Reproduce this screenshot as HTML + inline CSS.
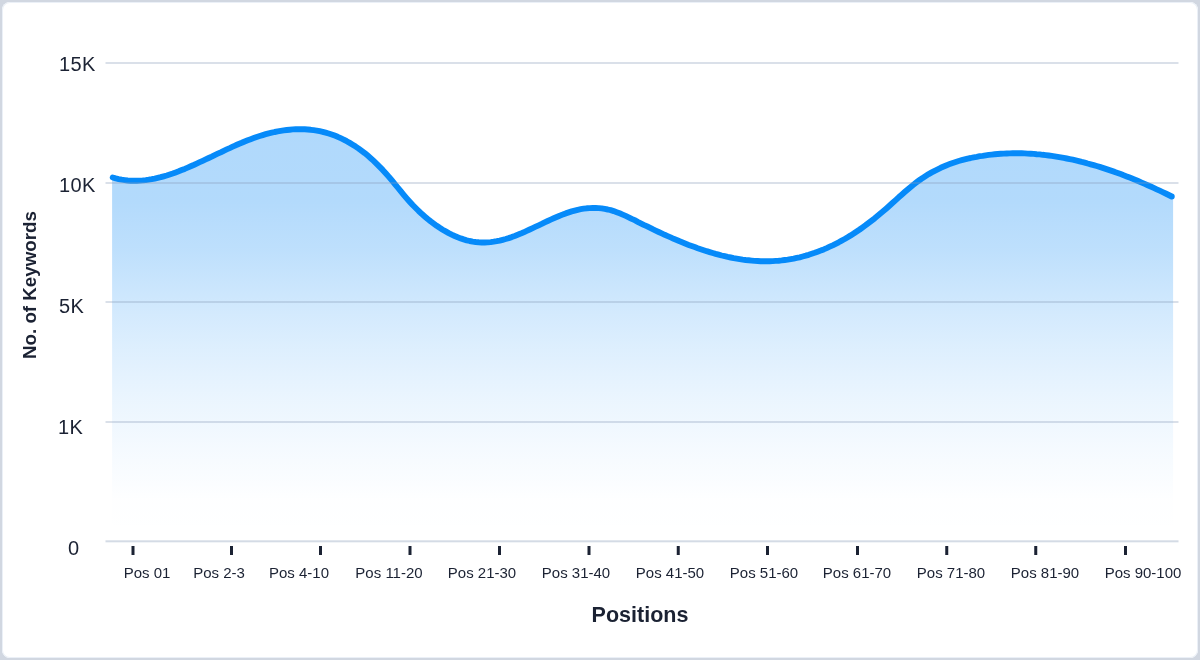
<!DOCTYPE html>
<html><head><meta charset="utf-8">
<style>
html,body{margin:0;padding:0;}
body{width:1200px;height:660px;background:#d1d7e1;position:relative;overflow:hidden;font-family:"Liberation Sans",sans-serif;color:#1b2233;}
.card{position:absolute;left:2px;top:2px;width:1196px;height:656px;background:#fff;border-radius:8px;box-shadow:inset 0 0 0 1px #ebf0f7;}
svg{position:absolute;left:0;top:0;}
.yl,.xl,.ytitle,.xtitle{will-change:transform;}
.yl{position:absolute;font-size:20px;line-height:20px;white-space:nowrap;letter-spacing:0.4px;}
.xl{position:absolute;font-size:15px;line-height:15px;white-space:nowrap;transform:translateX(-50%);}
.ytitle{position:absolute;font-size:18.75px;font-weight:bold;white-space:nowrap;transform-origin:0 0;transform:rotate(-90deg);}
.xtitle{position:absolute;font-size:21.5px;font-weight:bold;white-space:nowrap;transform:translateX(-50%);}
</style></head><body>
<div class="card"></div>
<svg width="1200" height="660" viewBox="0 0 1200 660">
<defs>
<linearGradient id="g" x1="0" y1="126" x2="0" y2="541" gradientUnits="userSpaceOnUse">
<stop offset="0" stop-color="#0084f5" stop-opacity="0.31"/>
<stop offset="0.178" stop-color="#0084f5" stop-opacity="0.3"/>
<stop offset="0.3" stop-color="#0084f5" stop-opacity="0.255"/>
<stop offset="0.455" stop-color="#0084f5" stop-opacity="0.17"/>
<stop offset="0.54" stop-color="#0084f5" stop-opacity="0.13"/>
<stop offset="0.66" stop-color="#0084f5" stop-opacity="0.08"/>
<stop offset="0.78" stop-color="#0084f5" stop-opacity="0.04"/>
<stop offset="0.9" stop-color="#0084f5" stop-opacity="0.005"/>
<stop offset="1" stop-color="#0084f5" stop-opacity="0"/>
</linearGradient>
</defs>

<path d="M112.1,177.5 L112.7,177.5 L115.7,178.4 L118.7,179.1 L121.7,179.7 L124.7,180.1 L127.7,180.5 L130.7,180.7 L133.7,180.8 L136.7,180.8 L139.7,180.6 L142.7,180.4 L145.7,180.1 L148.7,179.7 L151.7,179.2 L154.7,178.6 L157.7,177.9 L160.7,177.2 L163.7,176.3 L166.7,175.5 L169.7,174.5 L172.7,173.5 L175.7,172.4 L178.7,171.3 L181.7,170.1 L184.7,168.9 L187.7,167.6 L190.7,166.3 L193.7,165.0 L196.7,163.6 L199.7,162.2 L202.7,160.8 L205.7,159.4 L208.7,158.0 L211.7,156.6 L214.7,155.1 L217.7,153.7 L220.7,152.3 L223.7,150.8 L226.7,149.4 L229.7,148.1 L232.7,146.7 L235.7,145.3 L238.7,144.0 L241.7,142.8 L244.7,141.5 L247.7,140.3 L250.7,139.2 L253.7,138.1 L256.7,137.0 L259.7,136.0 L262.7,135.1 L265.7,134.2 L268.7,133.4 L271.7,132.7 L274.7,132.0 L277.7,131.4 L280.7,130.9 L283.7,130.4 L286.7,130.0 L289.7,129.7 L292.7,129.4 L295.7,129.3 L298.7,129.2 L301.7,129.2 L304.7,129.3 L307.7,129.5 L310.7,129.8 L313.7,130.2 L316.7,130.6 L319.7,131.2 L322.7,131.9 L325.7,132.7 L328.7,133.5 L331.7,134.5 L334.7,135.6 L337.7,136.8 L340.7,138.2 L343.7,139.6 L346.7,141.2 L349.7,142.9 L352.7,144.7 L355.7,146.6 L358.7,148.6 L361.7,150.8 L364.7,153.1 L367.7,155.6 L370.7,158.2 L373.7,160.9 L376.7,163.8 L379.7,166.8 L382.7,169.9 L385.7,173.2 L388.7,176.6 L391.7,180.2 L394.7,183.8 L397.7,187.5 L400.7,191.2 L403.7,194.8 L406.7,198.3 L409.7,201.7 L412.7,205.0 L415.7,208.0 L418.7,211.0 L421.7,213.8 L424.7,216.4 L427.7,219.0 L430.7,221.4 L433.7,223.6 L436.7,225.8 L439.7,227.8 L442.7,229.7 L445.7,231.4 L448.7,233.1 L451.7,234.6 L454.7,236.0 L457.7,237.3 L460.7,238.4 L463.7,239.4 L466.7,240.3 L469.7,241.0 L472.7,241.6 L475.7,242.0 L478.7,242.3 L481.7,242.5 L484.7,242.5 L487.7,242.4 L490.7,242.1 L493.7,241.7 L496.7,241.2 L499.7,240.6 L502.7,239.8 L505.7,239.0 L508.7,238.1 L511.7,237.1 L514.7,236.0 L517.7,234.8 L520.7,233.6 L523.7,232.3 L526.7,230.9 L529.7,229.5 L532.7,228.1 L535.7,226.7 L538.7,225.3 L541.7,223.9 L544.7,222.4 L547.7,221.0 L550.7,219.6 L553.7,218.3 L556.7,217.0 L559.7,215.7 L562.7,214.6 L565.7,213.4 L568.7,212.4 L571.7,211.4 L574.7,210.6 L577.7,209.8 L580.7,209.2 L583.7,208.7 L586.7,208.3 L589.7,208.1 L592.7,208.0 L595.7,208.0 L598.7,208.1 L601.7,208.4 L604.7,208.9 L607.7,209.5 L610.7,210.2 L613.7,211.1 L616.7,212.2 L619.7,213.3 L622.7,214.6 L625.7,215.9 L628.7,217.3 L631.7,218.8 L634.7,220.2 L637.7,221.8 L640.7,223.3 L643.7,224.8 L646.7,226.2 L649.7,227.7 L652.7,229.2 L655.7,230.6 L658.7,232.0 L661.7,233.4 L664.7,234.8 L667.7,236.1 L670.7,237.4 L673.7,238.8 L676.7,240.0 L679.7,241.3 L682.7,242.5 L685.7,243.7 L688.7,244.9 L691.7,246.0 L694.7,247.1 L697.7,248.2 L700.7,249.2 L703.7,250.2 L706.7,251.2 L709.7,252.1 L712.7,253.0 L715.7,253.9 L718.7,254.7 L721.7,255.5 L724.7,256.2 L727.7,256.9 L730.7,257.5 L733.7,258.1 L736.7,258.6 L739.7,259.1 L742.7,259.6 L745.7,260.0 L748.7,260.3 L751.7,260.6 L754.7,260.9 L757.7,261.0 L760.7,261.2 L763.7,261.2 L766.7,261.2 L769.7,261.2 L772.7,261.1 L775.7,260.9 L778.7,260.7 L781.7,260.4 L784.7,260.0 L787.7,259.6 L790.7,259.1 L793.7,258.6 L796.7,257.9 L799.7,257.3 L802.7,256.5 L805.7,255.7 L808.7,254.8 L811.7,253.8 L814.7,252.8 L817.7,251.7 L820.7,250.6 L823.7,249.4 L826.7,248.1 L829.7,246.7 L832.7,245.3 L835.7,243.8 L838.7,242.3 L841.7,240.6 L844.7,239.0 L847.7,237.2 L850.7,235.4 L853.7,233.5 L856.7,231.5 L859.7,229.5 L862.7,227.3 L865.7,225.2 L868.7,222.9 L871.7,220.6 L874.7,218.3 L877.7,215.8 L880.7,213.3 L883.7,210.8 L886.7,208.2 L889.7,205.5 L892.7,202.8 L895.7,200.1 L898.7,197.3 L901.7,194.7 L904.7,192.0 L907.7,189.4 L910.7,186.9 L913.7,184.5 L916.7,182.2 L919.7,180.0 L922.7,177.9 L925.7,176.0 L928.7,174.1 L931.7,172.4 L934.7,170.8 L937.7,169.3 L940.7,167.8 L943.7,166.5 L946.7,165.2 L949.7,164.1 L952.7,163.0 L955.7,162.0 L958.7,161.0 L961.7,160.2 L964.7,159.4 L967.7,158.6 L970.7,158.0 L973.7,157.3 L976.7,156.8 L979.7,156.2 L982.7,155.8 L985.7,155.3 L988.7,154.9 L991.7,154.6 L994.7,154.3 L997.7,154.0 L1000.7,153.8 L1003.7,153.6 L1006.7,153.5 L1009.7,153.4 L1012.7,153.3 L1015.7,153.3 L1018.7,153.3 L1021.7,153.3 L1024.7,153.4 L1027.7,153.6 L1030.7,153.7 L1033.7,153.9 L1036.7,154.2 L1039.7,154.4 L1042.7,154.8 L1045.7,155.1 L1048.7,155.5 L1051.7,155.9 L1054.7,156.3 L1057.7,156.8 L1060.7,157.3 L1063.7,157.9 L1066.7,158.5 L1069.7,159.1 L1072.7,159.7 L1075.7,160.4 L1078.7,161.1 L1081.7,161.9 L1084.7,162.6 L1087.7,163.5 L1090.7,164.3 L1093.7,165.1 L1096.7,166.0 L1099.7,166.9 L1102.7,167.9 L1105.7,168.9 L1108.7,169.9 L1111.7,170.9 L1114.7,171.9 L1117.7,173.0 L1120.7,174.1 L1123.7,175.3 L1126.7,176.4 L1129.7,177.6 L1132.7,178.8 L1135.7,180.0 L1138.7,181.3 L1141.7,182.6 L1144.7,183.9 L1147.7,185.2 L1150.7,186.5 L1153.7,187.9 L1156.7,189.3 L1159.7,190.7 L1162.7,192.1 L1165.7,193.5 L1168.7,195.0 L1171.7,196.5 L1171.8,196.5 L1173.1,196.5 L1173.1,541 L112.1,541 Z" fill="url(#g)"/>


<path d="M112.7,177.5 L115.7,178.4 L118.7,179.1 L121.7,179.7 L124.7,180.1 L127.7,180.5 L130.7,180.7 L133.7,180.8 L136.7,180.8 L139.7,180.6 L142.7,180.4 L145.7,180.1 L148.7,179.7 L151.7,179.2 L154.7,178.6 L157.7,177.9 L160.7,177.2 L163.7,176.3 L166.7,175.5 L169.7,174.5 L172.7,173.5 L175.7,172.4 L178.7,171.3 L181.7,170.1 L184.7,168.9 L187.7,167.6 L190.7,166.3 L193.7,165.0 L196.7,163.6 L199.7,162.2 L202.7,160.8 L205.7,159.4 L208.7,158.0 L211.7,156.6 L214.7,155.1 L217.7,153.7 L220.7,152.3 L223.7,150.8 L226.7,149.4 L229.7,148.1 L232.7,146.7 L235.7,145.3 L238.7,144.0 L241.7,142.8 L244.7,141.5 L247.7,140.3 L250.7,139.2 L253.7,138.1 L256.7,137.0 L259.7,136.0 L262.7,135.1 L265.7,134.2 L268.7,133.4 L271.7,132.7 L274.7,132.0 L277.7,131.4 L280.7,130.9 L283.7,130.4 L286.7,130.0 L289.7,129.7 L292.7,129.4 L295.7,129.3 L298.7,129.2 L301.7,129.2 L304.7,129.3 L307.7,129.5 L310.7,129.8 L313.7,130.2 L316.7,130.6 L319.7,131.2 L322.7,131.9 L325.7,132.7 L328.7,133.5 L331.7,134.5 L334.7,135.6 L337.7,136.8 L340.7,138.2 L343.7,139.6 L346.7,141.2 L349.7,142.9 L352.7,144.7 L355.7,146.6 L358.7,148.6 L361.7,150.8 L364.7,153.1 L367.7,155.6 L370.7,158.2 L373.7,160.9 L376.7,163.8 L379.7,166.8 L382.7,169.9 L385.7,173.2 L388.7,176.6 L391.7,180.2 L394.7,183.8 L397.7,187.5 L400.7,191.2 L403.7,194.8 L406.7,198.3 L409.7,201.7 L412.7,205.0 L415.7,208.0 L418.7,211.0 L421.7,213.8 L424.7,216.4 L427.7,219.0 L430.7,221.4 L433.7,223.6 L436.7,225.8 L439.7,227.8 L442.7,229.7 L445.7,231.4 L448.7,233.1 L451.7,234.6 L454.7,236.0 L457.7,237.3 L460.7,238.4 L463.7,239.4 L466.7,240.3 L469.7,241.0 L472.7,241.6 L475.7,242.0 L478.7,242.3 L481.7,242.5 L484.7,242.5 L487.7,242.4 L490.7,242.1 L493.7,241.7 L496.7,241.2 L499.7,240.6 L502.7,239.8 L505.7,239.0 L508.7,238.1 L511.7,237.1 L514.7,236.0 L517.7,234.8 L520.7,233.6 L523.7,232.3 L526.7,230.9 L529.7,229.5 L532.7,228.1 L535.7,226.7 L538.7,225.3 L541.7,223.9 L544.7,222.4 L547.7,221.0 L550.7,219.6 L553.7,218.3 L556.7,217.0 L559.7,215.7 L562.7,214.6 L565.7,213.4 L568.7,212.4 L571.7,211.4 L574.7,210.6 L577.7,209.8 L580.7,209.2 L583.7,208.7 L586.7,208.3 L589.7,208.1 L592.7,208.0 L595.7,208.0 L598.7,208.1 L601.7,208.4 L604.7,208.9 L607.7,209.5 L610.7,210.2 L613.7,211.1 L616.7,212.2 L619.7,213.3 L622.7,214.6 L625.7,215.9 L628.7,217.3 L631.7,218.8 L634.7,220.2 L637.7,221.8 L640.7,223.3 L643.7,224.8 L646.7,226.2 L649.7,227.7 L652.7,229.2 L655.7,230.6 L658.7,232.0 L661.7,233.4 L664.7,234.8 L667.7,236.1 L670.7,237.4 L673.7,238.8 L676.7,240.0 L679.7,241.3 L682.7,242.5 L685.7,243.7 L688.7,244.9 L691.7,246.0 L694.7,247.1 L697.7,248.2 L700.7,249.2 L703.7,250.2 L706.7,251.2 L709.7,252.1 L712.7,253.0 L715.7,253.9 L718.7,254.7 L721.7,255.5 L724.7,256.2 L727.7,256.9 L730.7,257.5 L733.7,258.1 L736.7,258.6 L739.7,259.1 L742.7,259.6 L745.7,260.0 L748.7,260.3 L751.7,260.6 L754.7,260.9 L757.7,261.0 L760.7,261.2 L763.7,261.2 L766.7,261.2 L769.7,261.2 L772.7,261.1 L775.7,260.9 L778.7,260.7 L781.7,260.4 L784.7,260.0 L787.7,259.6 L790.7,259.1 L793.7,258.6 L796.7,257.9 L799.7,257.3 L802.7,256.5 L805.7,255.7 L808.7,254.8 L811.7,253.8 L814.7,252.8 L817.7,251.7 L820.7,250.6 L823.7,249.4 L826.7,248.1 L829.7,246.7 L832.7,245.3 L835.7,243.8 L838.7,242.3 L841.7,240.6 L844.7,239.0 L847.7,237.2 L850.7,235.4 L853.7,233.5 L856.7,231.5 L859.7,229.5 L862.7,227.3 L865.7,225.2 L868.7,222.9 L871.7,220.6 L874.7,218.3 L877.7,215.8 L880.7,213.3 L883.7,210.8 L886.7,208.2 L889.7,205.5 L892.7,202.8 L895.7,200.1 L898.7,197.3 L901.7,194.7 L904.7,192.0 L907.7,189.4 L910.7,186.9 L913.7,184.5 L916.7,182.2 L919.7,180.0 L922.7,177.9 L925.7,176.0 L928.7,174.1 L931.7,172.4 L934.7,170.8 L937.7,169.3 L940.7,167.8 L943.7,166.5 L946.7,165.2 L949.7,164.1 L952.7,163.0 L955.7,162.0 L958.7,161.0 L961.7,160.2 L964.7,159.4 L967.7,158.6 L970.7,158.0 L973.7,157.3 L976.7,156.8 L979.7,156.2 L982.7,155.8 L985.7,155.3 L988.7,154.9 L991.7,154.6 L994.7,154.3 L997.7,154.0 L1000.7,153.8 L1003.7,153.6 L1006.7,153.5 L1009.7,153.4 L1012.7,153.3 L1015.7,153.3 L1018.7,153.3 L1021.7,153.3 L1024.7,153.4 L1027.7,153.6 L1030.7,153.7 L1033.7,153.9 L1036.7,154.2 L1039.7,154.4 L1042.7,154.8 L1045.7,155.1 L1048.7,155.5 L1051.7,155.9 L1054.7,156.3 L1057.7,156.8 L1060.7,157.3 L1063.7,157.9 L1066.7,158.5 L1069.7,159.1 L1072.7,159.7 L1075.7,160.4 L1078.7,161.1 L1081.7,161.9 L1084.7,162.6 L1087.7,163.5 L1090.7,164.3 L1093.7,165.1 L1096.7,166.0 L1099.7,166.9 L1102.7,167.9 L1105.7,168.9 L1108.7,169.9 L1111.7,170.9 L1114.7,171.9 L1117.7,173.0 L1120.7,174.1 L1123.7,175.3 L1126.7,176.4 L1129.7,177.6 L1132.7,178.8 L1135.7,180.0 L1138.7,181.3 L1141.7,182.6 L1144.7,183.9 L1147.7,185.2 L1150.7,186.5 L1153.7,187.9 L1156.7,189.3 L1159.7,190.7 L1162.7,192.1 L1165.7,193.5 L1168.7,195.0 L1171.7,196.5 L1171.8,196.5" fill="none" stroke="#068af9" stroke-width="5.9" stroke-linecap="round" stroke-linejoin="round"/>
<g fill="rgb(135,155,184)" fill-opacity="0.31">
<rect x="105.5" y="62" width="1073" height="2"/>
<rect x="105.5" y="182" width="1073" height="2"/>
<rect x="105.5" y="301" width="1073" height="2"/>
<rect x="105.5" y="421" width="1073" height="2"/>
<rect x="105.5" y="540.3" width="1073" height="2" fill-opacity="0.36"/>
</g>
<g fill="#1b2233">
<rect x="131.5" y="546" width="3" height="9"/>
<rect x="230" y="546" width="3" height="9"/>
<rect x="319" y="546" width="3" height="9"/>
<rect x="408.5" y="546" width="3" height="9"/>
<rect x="498" y="546" width="3" height="9"/>
<rect x="587.5" y="546" width="3" height="9"/>
<rect x="676.75" y="546" width="3" height="9"/>
<rect x="766" y="546" width="3" height="9"/>
<rect x="856" y="546" width="3" height="9"/>
<rect x="945.25" y="546" width="3" height="9"/>
<rect x="1034.25" y="546" width="3" height="9"/>
<rect x="1124" y="546" width="3" height="9"/>
</g>
</svg>
<div class="yl" style="left:59px;top:54px">15K</div>
<div class="yl" style="left:59px;top:175px">10K</div>
<div class="yl" style="left:59px;top:296px">5K</div>
<div class="yl" style="left:58px;top:417px">1K</div>
<div class="yl" style="left:68px;top:538px">0</div>
<div class="xl" style="left:147px;top:565px">Pos 01</div>
<div class="xl" style="left:219px;top:565px">Pos 2-3</div>
<div class="xl" style="left:298.5px;top:565px">Pos 4-10</div>
<div class="xl" style="left:388.5px;top:565px">Pos 11-20</div>
<div class="xl" style="left:482px;top:565px">Pos 21-30</div>
<div class="xl" style="left:576px;top:565px">Pos 31-40</div>
<div class="xl" style="left:669.75px;top:565px">Pos 41-50</div>
<div class="xl" style="left:763.5px;top:565px">Pos 51-60</div>
<div class="xl" style="left:857.25px;top:565px">Pos 61-70</div>
<div class="xl" style="left:951px;top:565px">Pos 71-80</div>
<div class="xl" style="left:1045px;top:565px">Pos 81-90</div>
<div class="xl" style="left:1143.4px;top:565px">Pos 90-100</div>
<div class="ytitle" style="left:19px;top:358.5px">No. of Keywords</div>
<div class="xtitle" style="left:640.4px;top:603px">Positions</div>
</body></html>
